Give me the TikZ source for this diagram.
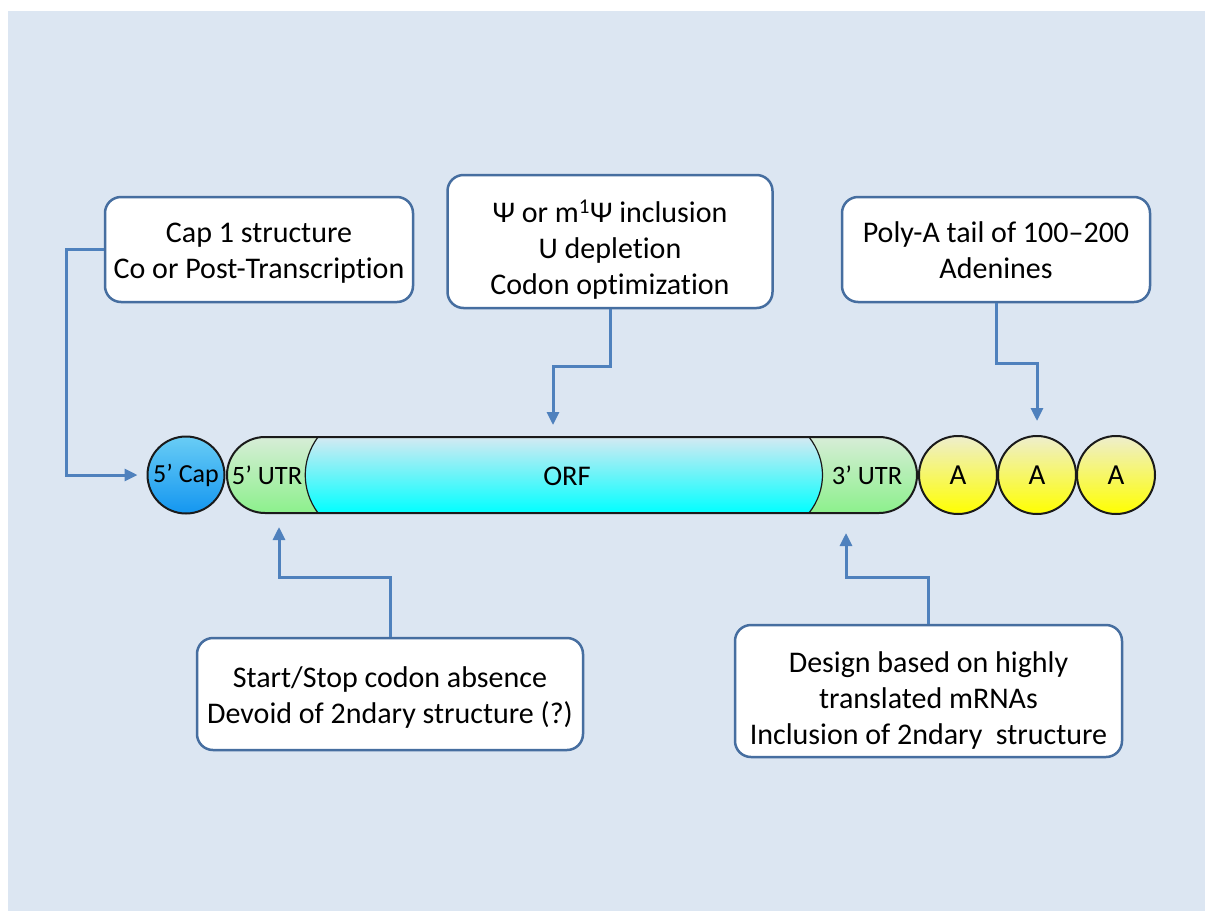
\documentclass[tikz,border=0pt]{standalone}
\usepackage{fontspec}
\setmainfont{Carlito}[Ligatures=CommonOff]
\usetikzlibrary{arrows.meta}
\newcommand{\notelines}[2][4pt]{\raisebox{-#1}[\height][\depth]{\begin{tabular}{@{}c@{}}#2\end{tabular}}}

\begin{document}
\begin{tikzpicture}[x=1pt,y=-1pt,
   note/.style={draw=boxline, line width=2.5pt, fill=white, rounded corners=16pt,
      inner sep=0pt, font=\fontsize{30}{36}\selectfont},
   conn/.style={draw=connblue, line width=3pt, -{Triangle[length=13pt,width=12pt]}},
   bead/.style={circle, draw=outline, line width=2pt, minimum size=78pt, inner sep=0pt},
   seglabel/.style={inner sep=0pt, font=\fontsize{26.5}{30}\selectfont}]
   \definecolor{bg}{HTML}{DCE6F2}
   \definecolor{boxline}{RGB}{70,110,160}
   \definecolor{connblue}{HTML}{4F81BD}
   \definecolor{outline}{HTML}{1A1A1A}
   \definecolor{captop}{RGB}{105,205,245}
   \definecolor{capbot}{RGB}{20,150,240}
   \definecolor{utrtop}{RGB}{215,237,215}
   \definecolor{utrbot}{RGB}{140,240,140}
   \definecolor{orftop}{RGB}{212,233,242}
   \definecolor{orfbot}{RGB}{0,255,255}
   \definecolor{atop}{RGB}{238,238,205}
   \definecolor{abot}{RGB}{255,255,0}
   \useasboundingbox (0,0) rectangle (1205,911);
   \fill[white] (0,0) rectangle (1205,911);
   \fill[bg] (8,11) rectangle (1205,911);
   % mRNA
   \shade[top color=utrtop, bottom color=utrbot] (318,437) -- (265,437) arc[start angle=270, end angle=90, radius=38] -- (318,513) .. controls (301,490) and (301,460) .. (318,437) -- cycle;
   \shade[top color=orftop, bottom color=orfbot] (318,437) -- (809,437) .. controls (827,460) and (827,490) .. (809,513) -- (318,513) .. controls (301,490) and (301,460) .. (318,437) -- cycle;
   \shade[top color=utrtop, bottom color=utrbot] (809,437) -- (879,437) arc[start angle=270, end angle=450, radius=38] -- (809,513) .. controls (827,490) and (827,460) .. (809,437) -- cycle;
   \draw[outline, line width=1.2pt] (318,437) .. controls (301,460) and (301,490) .. (318,513);
   \draw[outline, line width=1.2pt] (809,437) .. controls (827,460) and (827,490) .. (809,513);
   \draw[outline, line width=2pt] (265,437) -- (879,437) arc[start angle=270, end angle=450, radius=38] -- (265,513) arc[start angle=90, end angle=270, radius=38] -- cycle;
   \node[bead, minimum size=77pt, top color=captop, bottom color=capbot, font=\fontsize{26}{30}\selectfont] (cap) at (186,475) {5’ Cap};
   \node[seglabel] (utr5) at (267,475) {5’ UTR};
   \node[seglabel, font=\fontsize{28.5}{30}\selectfont] (orf) at (567,476) {ORF};
   \node[seglabel] (utr3) at (867,475) {3’ UTR};
   \foreach \i/\x in {1/958, 2/1037, 3/1116}
      \node[bead, top color=atop, bottom color=abot, font=\fontsize{29}{30}\selectfont] (a\i) at (\x,475) {A};
   \coordinate (orfpt) at (553,437);
   \coordinate (utr5pt) at (279,513);
   \coordinate (utr3pt) at (846,513);
   % notes
   \node[note, minimum width=308pt, minimum height=105pt] (capbox) at (259,249.5) {\notelines{Cap 1 structure\\Co or Post-Transcription}};
   \node[note, minimum width=325pt, minimum height=133pt] (midbox) at (610,241.5) {\notelines[9.5pt]{Ψ or m\textsuperscript{1}Ψ inclusion\\U depletion\\Codon optimization}};
   \node[note, minimum width=308pt, minimum height=105pt] (polybox) at (996,249.5) {\notelines{Poly-A tail of 100–200\\Adenines}};
   \node[note, minimum width=386pt, minimum height=112pt] (utr5box) at (390,694) {\notelines{Start/Stop codon absence\\Devoid of 2ndary structure (?)}};
   \node[note, minimum width=387pt, minimum height=132pt] (utr3box) at (928.5,691) {\notelines[10.5pt]{Design based on highly\\translated mRNAs\\Inclusion of 2ndary\ \ structure}};
   % connectors
   \draw[conn, shorten >=9pt] (capbox.west) -- ++(-37,0) |- (cap.west);
   \draw[conn, shorten >=12pt] (midbox.south) -- ++(0,57) -| (orfpt);
   \draw[conn, shorten >=14pt] (polybox.south) -- ++(0,60) -| (a2.north);
   \draw[conn, shorten >=14pt] (utr5box.north) -- ++(0,-59) -| (utr5pt);
   \draw[conn, shorten >=20pt] (utr3box.north) -- ++(0,-46) -| (utr3pt);
\end{tikzpicture}
\end{document}
